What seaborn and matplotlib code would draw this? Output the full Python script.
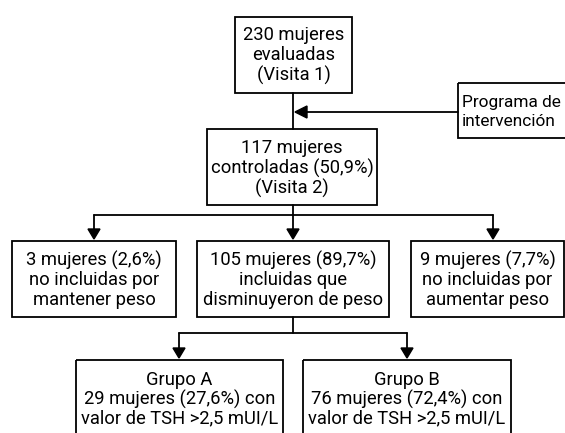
import matplotlib
matplotlib.use("Agg")
import matplotlib.pyplot as plt
import seaborn as sns
from matplotlib.patches import Rectangle

# textos de las cajas
top_text = ["230 mujeres", "evaluadas", "(Visita 1)"]
ctrl_text = ["117 mujeres", "controladas (50,9%)", "(Visita 2)"]
prog_text = ["Programa de", "intervención"]
mid_labels = [
    ["3 mujeres (2,6%)", "no incluidas por", "mantener peso"],
    ["105 mujeres (89,7%)", "incluidas que", "disminuyeron de peso"],
    ["9 mujeres (7,7%)", "no incluidas por", "aumentar peso"],
]
grp_labels = [
    ["Grupo A", "29 mujeres (27,6%) con", "valor de TSH >2,5 mUI/L"],
    ["Grupo B", "76 mujeres (72,4%) con", "valor de TSH >2,5 mUI/L"],
]

# layout en pixeles (x0, x1, y0, y1)
top_box = (235, 352, 17, 93)
ctrl_box = (207, 377, 129, 205)
prog_box = (458, 600, 83, 138)
mid_boxes = [(12, 176, 241, 317), (197, 389, 241, 317), (411, 564, 241, 317)]
mid_arrows = [94, 293, 493]
grp_boxes = [(76, 283, 360, 460), (303, 511, 360, 460)]
grp_arrows = [179, 407]

sns.set_style("white")
plt.rcParams['font.family'] = ['Roboto', 'DejaVu Sans']

fig = plt.figure(figsize=(5.65, 4.33), dpi=100)
ax = fig.add_axes([0, 0, 1, 1])
ax.set_xlim(0, 565)
ax.set_ylim(433, 0)
ax.axis('off')

LW = 1.3
FS = 13.2


def box(b, lines, y_first, step=20, ha='center', fs=FS):
    x0, x1, y0, y1 = b
    ax.add_patch(Rectangle((x0, y0), x1 - x0, y1 - y0, fill=False,
                           edgecolor='black', linewidth=LW))
    xc = (x0 + x1) / 2 if ha == 'center' else x0 + 4
    for i, t in enumerate(lines):
        ax.text(xc, y_first + i * step, t, ha=ha, va='center',
                fontsize=fs, color='black')


def arrow_down(x, y0, y1):
    ax.plot([x, x], [y0, y1 - 9], color='black', lw=LW)
    ax.fill([x - 6, x + 6, x], [y1 - 10, y1 - 10, y1], color='black')


box(top_box, top_text, 35)
box(ctrl_box, ctrl_text, 148)
box(prog_box, prog_text, 103, step=18, ha='left', fs=12.4)
for b, t in zip(mid_boxes, mid_labels):
    box(b, t, 260)
for b, t in zip(grp_boxes, grp_labels):
    box(b, t, 380, step=19)

# conexiones
ax.plot([293, 293], [93, 129], color='black', lw=LW)
ax.plot([305, 458], [112, 112], color='black', lw=LW)
ax.fill([295, 307, 307], [112, 106, 118], color='black')

ax.plot([293, 293], [205, 215], color='black', lw=LW)
ax.plot([mid_arrows[0], mid_arrows[-1]], [215, 215], color='black', lw=LW)
for x in mid_arrows:
    arrow_down(x, 215, 239)

ax.plot([293, 293], [317, 333], color='black', lw=LW)
ax.plot([grp_arrows[0], grp_arrows[-1]], [333, 333], color='black', lw=LW)
for x in grp_arrows:
    arrow_down(x, 333, 358)

fig.savefig('out.png', dpi=100)
